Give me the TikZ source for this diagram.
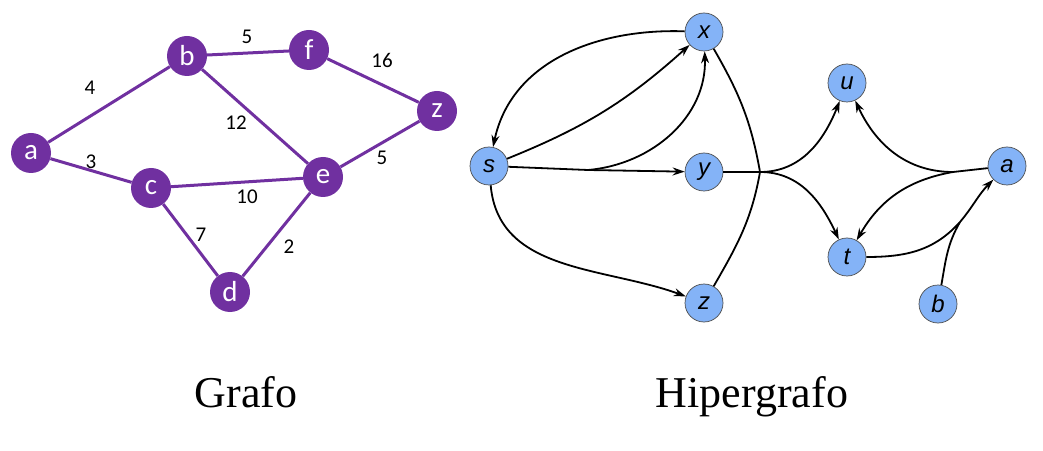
\documentclass[tikz,border=0pt]{standalone}
\usepackage{fontspec}
\setmainfont{Liberation Serif}
\newfontfamily\califont{Carlito}
\newfontfamily\arialfont{Liberation Sans}
\usepackage{xcolor}
\usetikzlibrary{arrows.meta}
\definecolor{grafoviolet}{HTML}{7030A0}
\definecolor{hiperblue}{HTML}{84B3F7}

\begin{document}
\begin{tikzpicture}[x=1pt,y=1pt,
  gv/.style={circle,fill=grafoviolet,minimum size=40pt,inner sep=0pt,text=white,font=\califont\fontsize{29}{29}\selectfont},
  gedge/.style={grafoviolet,line width=3pt},
  peso/.style={font=\califont\fontsize{21}{21}\selectfont},
  hv/.style={circle,draw=black!70,line width=0.7pt,fill=hiperblue,minimum size=38pt,inner sep=0pt,font=\arialfont\itshape\fontsize{24}{24}\selectfont},
  harc/.style={line width=1.8pt,-{Stealth[length=12pt,width=8pt]}},
  hline/.style={line width=1.8pt},
  titulo/.style={anchor=base,font=\fontsize{44}{44}\selectfont}]
\useasboundingbox (0,0) rectangle (1043,450);

% grafo
\node[gv] (a) at (31,297) {a};
\node[gv] (b) at (187,394) {b};
\node[gv] (f) at (309,400) {f};
\node[gv] (z) at (437,339) {z};
\node[gv] (c) at (151,262) {c};
\node[gv] (e) at (323,273) {e};
\node[gv] (d) at (230,158) {d};
\draw[gedge] (a) -- (b);
\draw[gedge] (b) -- (f);
\draw[gedge] (f) -- (z);
\draw[gedge] (b) -- (e);
\draw[gedge] (a) -- (c);
\draw[gedge] (c) -- (e);
\draw[gedge] (e) -- (z);
\draw[gedge] (c) -- (d);
\draw[gedge] (d) -- (e);
\node[peso] (w-ab) at (90,362) {4};
\node[peso] (w-bf) at (247,413) {5};
\node[peso] (w-fz) at (382,390) {16};
\node[peso] (w-be) at (236,327) {12};
\node[peso] (w-ac) at (91,288) {3};
\node[peso] (w-ce) at (247,253) {10};
\node[peso] (w-ez) at (382,292) {5};
\node[peso] (w-cd) at (201,215) {7};
\node[peso] (w-de) at (289,203) {2};

% hipergrafo
\node[hv] (hs) at (489,284) {s};
\node[hv] (hx) at (704,418) {x};
\node[hv] (hy) at (704,278) {y};
\node[hv] (hz) at (704,147) {z};
\node[hv] (hu) at (847,367) {u};
\node[hv] (ht) at (847,193) {t};
\node[hv] (ha) at (1007,284) {a};
\node[hv] (hb) at (938,146) {b};
\coordinate (j-sxy) at (588,280);
\coordinate (j-xyz) at (760,278);
\coordinate (j-a) at (953,278);
\coordinate (j-tb) at (960,228);

\draw[harc] (hx) to[out=178,in=78] (hs);
\draw[harc] (hs) to[bend right=10] (hx);
\draw[harc] (hs) to[out=-85,in=160] (hz);
\draw[hline] (hs) -- (j-sxy);
\draw[harc] (j-sxy) -- (hy);
\draw[harc] (j-sxy) to[out=5,in=-88] (hx);

\draw[hline] (hx) to[out=-60,in=100] (j-xyz);
\draw[hline] (hy) -- (j-xyz);
\draw[hline] (hz) to[out=60,in=-100] (j-xyz);
\draw[harc] (j-xyz) to[out=0,in=-112] (hu);
\draw[harc] (j-xyz) to[out=0,in=115] (ht);

\draw[hline] (ha) -- (j-a);
\draw[harc] (j-a) to[out=180,in=-65] (hu);
\draw[harc] (j-a) to[out=190,in=60] (ht);

\draw[hline] (ht) to[out=0,in=228] (j-tb);
\draw[hline] (hb) to[out=80,in=240] (j-tb);
\draw[harc] (j-tb) to[out=50,in=225] (ha);

\node[titulo] (t-grafo) at (246,43) {Grafo};
\node[titulo] (t-hiper) at (752,43) {Hipergrafo};
\end{tikzpicture}
\end{document}
